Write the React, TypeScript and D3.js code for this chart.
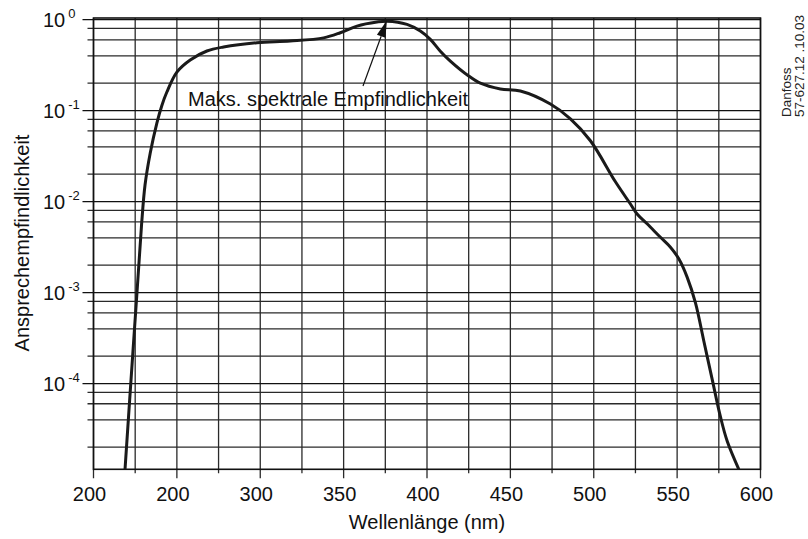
import React from "react";
import * as d3 from "d3";

// Data
const wavelengths = [218.9, 222.5, 226.1, 228.8, 230.9, 234, 238, 241, 244, 250, 258, 268, 278, 298, 318, 338, 348, 358, 370, 376, 388, 396, 402, 408, 414, 425, 432, 444, 456, 474, 486, 498, 513, 522, 526, 532, 540, 546, 551, 556, 561, 566, 571, 576, 580, 587];
const responses = [1.143e-5, 1.1e-4, 1.02e-3, 5.5e-3, 0.0152, 0.034, 0.073, 0.114, 0.16, 0.265, 0.36, 0.452, 0.5, 0.557, 0.581, 0.63, 0.717, 0.849, 0.94, 0.96, 0.886, 0.75, 0.607, 0.45, 0.35, 0.24, 0.2, 0.173, 0.164, 0.118, 0.081, 0.0466, 0.0165, 0.0094, 0.0073, 0.0057, 0.00405, 0.00315, 0.00235, 0.00148, 7.7e-4, 2.94e-4, 1.12e-4, 4.3e-5, 2.34e-5, 1.143e-5];

const xTicks = [200, 225, 250, 275, 300, 325, 350, 375, 400, 425, 450, 475, 500, 525, 550, 575, 600];
const xTickLabels = ["200", "200", "300", "350", "400", "450", "500", "550", "600"]; // as printed on the original
const yDecades = [0, -1, -2, -3, -4];
const yMinorFactors = [2, 4, 6, 8];

const xTitle = "Wellenlänge (nm)";
const yTitle = "Ansprechempfindlichkeit";
const annotation = "Maks. spektrale Empfindlichkeit";
const peakWavelength = 376;
const peakValue = 0.985;
const stamp = ["Danfoss", "57-627.12 .10.03"];

const W = 808;
const H = 539;
const left = 93.5, right = 760.5, top = 18, bottom = 469.3;

export default function App() {
  const x = d3.scaleLinear().domain([200, 600]).range([left, right]);
  const y = d3.scaleLog().domain([1.143e-5, 1]).range([bottom, 19.6]);

  const gridVals: number[] = [];
  for (let k = -5; k <= -1; k++) {
    yMinorFactors.forEach((f) => {
      const v = f * Math.pow(10, k);
      if (v >= 1.143e-5 && v <= 1) gridVals.push(v);
    });
  }
  const majorVals = yDecades.map((d) => Math.pow(10, d));

  const line = d3
    .line<number>()
    .x((_, i) => x(wavelengths[i]))
    .y((d) => y(d))
    .curve(d3.curveCatmullRom.alpha(0.5));
  const path = line(responses) || "";

  const font = "'Liberation Sans', Arial, Helvetica, sans-serif";
  const gridColor = "#2a2a2a";

  // annotation arrow
  const tipX = x(peakWavelength);
  const tipY = y(peakValue);
  const tailX = 363;
  const tailY = 86;
  const ang = Math.atan2(tipY - tailY, tipX - tailX);
  const hl = 17, hw = 4.5;
  const bx = tipX - hl * Math.cos(ang), by = tipY - hl * Math.sin(ang);
  const head = [
    [tipX, tipY],
    [bx + hw * Math.sin(ang), by - hw * Math.cos(ang)],
    [bx - hw * Math.sin(ang), by + hw * Math.cos(ang)],
  ]
    .map((p) => p.join(","))
    .join(" ");

  return (
    <svg
      width={W}
      height={H}
      style={{ position: "absolute", left: 0, top: 0, background: "#fff" }}
      fontFamily={font}
    >
      <rect x={0} y={0} width={W} height={H} fill="#fff" />
      {/* vertical grid */}
      {xTicks.map((t, i) => (
        <line
          key={"vx" + t}
          x1={x(t)}
          x2={x(t)}
          y1={top}
          y2={bottom + (i % 2 === 0 ? 9 : 4)}
          stroke={gridColor}
          strokeWidth={1.3}
        />
      ))}
      {/* horizontal minor grid */}
      {gridVals.map((v) => (
        <line
          key={"hm" + v}
          x1={left - 6}
          x2={right}
          y1={y(v)}
          y2={y(v)}
          stroke={gridColor}
          strokeWidth={1.3}
        />
      ))}
      {/* horizontal major grid */}
      {majorVals.map((v) => (
        <line
          key={"hM" + v}
          x1={left - 11}
          x2={right}
          y1={y(v)}
          y2={y(v)}
          stroke="#111"
          strokeWidth={1.4}
        />
      ))}
      {/* frame */}
      <rect
        x={left}
        y={top}
        width={right - left}
        height={bottom - top}
        fill="none"
        stroke="#111"
        strokeWidth={1.6}
      />
      {/* curve */}
      <path d={path} fill="none" stroke="#1a1a1a" strokeWidth={3} strokeLinejoin="round" />

      {/* x tick labels */}
      {xTicks
        .filter((_, i) => i % 2 === 0)
        .map((t, i) => (
          <text
            key={"xl" + t}
            x={x(t) - 4}
            y={501}
            fontSize={20}
            textAnchor="middle"
            fill="#111"
          >
            {xTickLabels[i]}
          </text>
        ))}
      {/* y tick labels */}
      {yDecades.map((d) => (
        <text key={"yl" + d} x={43} y={y(Math.pow(10, d)) + 7} fontSize={20} fill="#111">
          10
          <tspan fontSize={13} dx={3} dy={-9}>
            {d === 0 ? "0" : "-" + Math.abs(d)}
          </tspan>
        </text>
      ))}

      {/* axis titles */}
      <text x={(left + right) / 2} y={529} fontSize={20} textAnchor="middle" fill="#111">
        {xTitle}
      </text>
      <text
        transform={`translate(29,243) rotate(-90)`}
        fontSize={20}
        textAnchor="middle"
        fill="#111"
      >
        {yTitle}
      </text>

      {/* annotation */}
      <line x1={tailX} y1={tailY} x2={bx} y2={by} stroke="#111" strokeWidth={1.2} />
      <polygon points={head} fill="#111" />
      <text x={188} y={106} fontSize={20} fill="#111">
        {annotation}
      </text>

      {/* stamp */}
      <text transform="translate(791,117) rotate(-90)" fontSize={13.5} fill="#222">
        {stamp[0]}
      </text>
      <text transform="translate(804,117) rotate(-90)" fontSize={13.5} fill="#222">
        {stamp[1]}
      </text>
    </svg>
  );
}
